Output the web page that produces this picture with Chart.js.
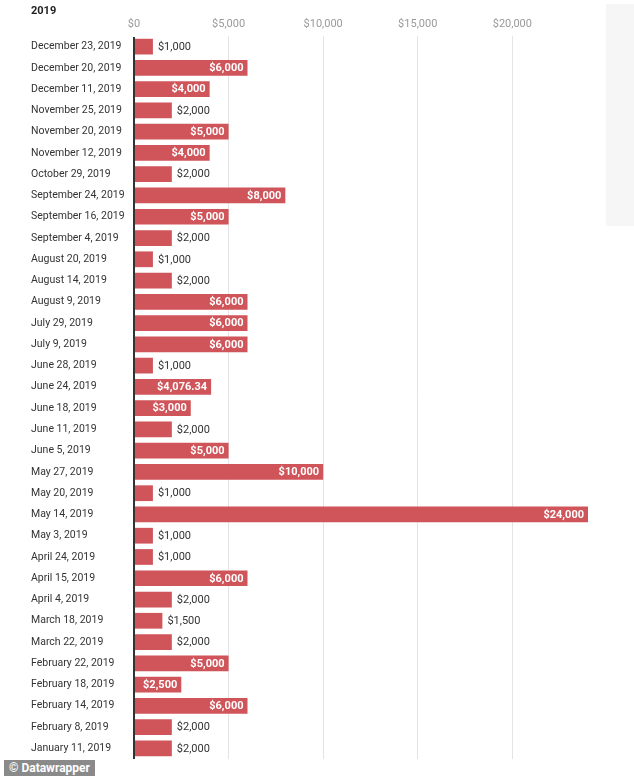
<!DOCTYPE html>
<html>
<head>
<meta charset="utf-8">
<script src="https://cdn.jsdelivr.net/npm/chart.js@4"></script>
<style>
  html, body { margin: 0; padding: 0; background: #fff; }
  #wrap { position: relative; width: 634px; height: 776px; font-family: Roboto, "Noto Sans", sans-serif; }
  #title { position: absolute; left: 31px; top: 4px; font-size: 11px; font-weight: bold; color: #222; }
  #side { position: absolute; left: 606px; top: 4px; width: 28px; height: 222px; background: #f6f6f6; }
  #credit { position: absolute; left: 4px; top: 760px; height: 16px; padding: 0 5px; background: #8a8a8a; color: #fff; font-weight: bold; font-size: 12px; line-height: 16px; }
  canvas { position: absolute; left: 0; top: 0; }
</style>
</head>
<body>
<div id="wrap">
  <div id="side"></div>
  <canvas id="donations" width="634" height="776"></canvas>
  <div id="title">2019</div>
  <div id="credit">© Datawrapper</div>
</div>
<script>
// Dates of each donation, top to bottom as shown
const dates = [
    'December 23, 2019', 'December 20, 2019', 'December 11, 2019', 'November 25, 2019',
    'November 20, 2019', 'November 12, 2019', 'October 29, 2019', 'September 24, 2019',
    'September 16, 2019', 'September 4, 2019', 'August 20, 2019', 'August 14, 2019',
    'August 9, 2019', 'July 29, 2019', 'July 9, 2019', 'June 28, 2019',
    'June 24, 2019', 'June 18, 2019', 'June 11, 2019', 'June 5, 2019',
    'May 27, 2019', 'May 20, 2019', 'May 14, 2019', 'May 3, 2019',
    'April 24, 2019', 'April 15, 2019', 'April 4, 2019', 'March 18, 2019',
    'March 22, 2019', 'February 22, 2019', 'February 18, 2019', 'February 14, 2019',
    'February 8, 2019', 'January 11, 2019'
];
const amounts = [
    1000, 6000, 4000, 2000,
    5000, 4000, 2000, 8000,
    5000, 2000, 1000, 2000,
    6000, 6000, 6000, 1000,
    4076.34, 3000, 2000, 5000,
    10000, 1000, 24000, 1000,
    1000, 6000, 2000, 1500,
    2000, 5000, 2500, 6000,
    2000, 2000
];
const xTicks = [0, 5000, 10000, 15000, 20000];

function money(v) {
    const cents = Math.round(v * 100) % 100 !== 0;
    return '$' + v.toLocaleString('en-US', {
        minimumFractionDigits: cents ? 2 : 0,
        maximumFractionDigits: 2
    });
}

// value labels + dark zero line
const barLabels = {
    id: 'barLabels',
    afterDatasetsDraw(chart) {
        const ctx = chart.ctx;
        const area = chart.chartArea;
        const x0 = chart.scales.x.getPixelForValue(0);
        ctx.save();
        ctx.fillStyle = '#333';
        ctx.fillRect(x0 - 1, area.top + 1, 2, area.bottom - area.top - 1);
        ctx.textBaseline = 'middle';
        chart.getDatasetMeta(0).data.forEach(function(bar, i) {
            const v = amounts[i];
            const text = money(v);
            if (v >= 2500) {
                ctx.font = 'bold 11px Roboto, sans-serif';
                ctx.fillStyle = '#fff';
                ctx.textAlign = 'right';
                ctx.fillText(text, bar.x - 4, bar.y + 0.5);
            } else {
                ctx.font = '11px Roboto, sans-serif';
                ctx.fillStyle = '#333';
                ctx.textAlign = 'left';
                ctx.fillText(text, bar.x + 5, bar.y + 0.5);
            }
        });
        ctx.restore();
    }
};

const ctx = document.getElementById('donations').getContext('2d');
new Chart(ctx, {
    type: 'bar',
    data: {
        labels: dates,
        datasets: [{
            data: amounts,
            backgroundColor: '#cf555a',
            borderWidth: 0,
            barPercentage: 0.74,
            categoryPercentage: 1
        }]
    },
    options: {
        indexAxis: 'y',
        responsive: false,
        animation: false,
        layout: {
            padding: { left: 31, right: 46, top: 18, bottom: 17 }
        },
        plugins: {
            legend: { display: false },
            tooltip: { enabled: false }
        },
        scales: {
            x: {
                position: 'top',
                min: 0,
                max: 24000,
                afterFit: function(scale) { scale.height = 18; },
                afterBuildTicks: function(scale) {
                    scale.ticks = xTicks.map(function(v) { return { value: v }; });
                },
                border: { display: false },
                grid: {
                    drawTicks: false,
                    color: function(c) { return c.tick && c.tick.value === 0 ? 'rgba(0,0,0,0)' : '#e4e4e4'; }
                },
                ticks: {
                    padding: 5,
                    color: '#9a9a9a',
                    font: { family: 'Roboto', size: 11 },
                    callback: function(v) { return money(v); }
                }
            },
            y: {
                afterFit: function(scale) { scale.width = 103; },
                border: { display: false },
                grid: { display: false, drawTicks: false },
                ticks: {
                    crossAlign: 'far',
                    padding: 0,
                    autoSkip: false,
                    color: '#333',
                    font: { family: 'Roboto', size: 10.5 }
                }
            }
        }
    },
    plugins: [barLabels]
});
</script>
</body>
</html>
